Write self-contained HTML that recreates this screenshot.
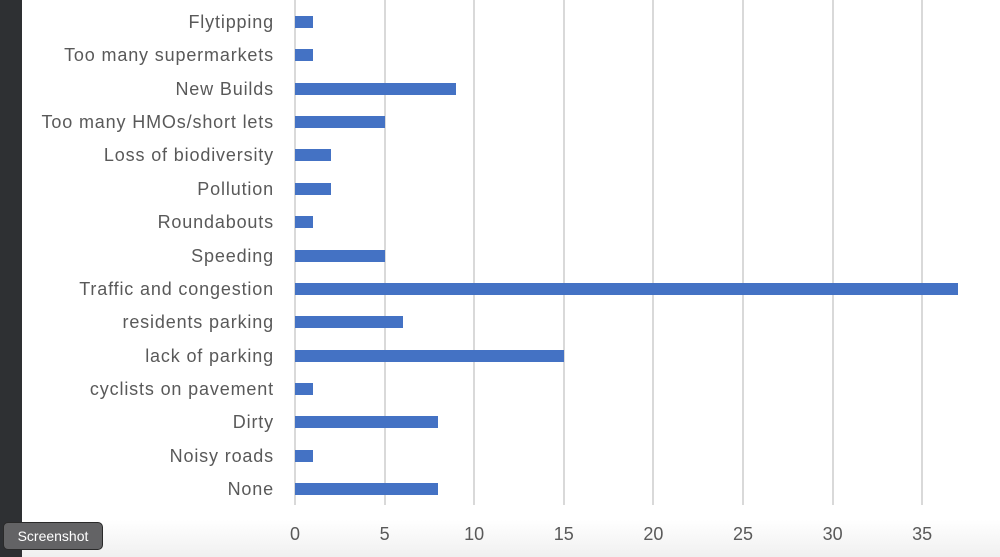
<!DOCTYPE html><html><head><style>body{margin:0;width:1000px;height:557px;overflow:hidden;background:#fff;font-family:"Liberation Sans",sans-serif;position:relative}
.l{position:absolute;right:726px;font-size:18px;letter-spacing:0.85px;color:#595959;white-space:nowrap;line-height:20px}
.b{position:absolute;left:295px;height:12px;background:#4472c4}
.g{position:absolute;top:0;height:505px;width:2px;background:#d9d9d9}
.t{position:absolute;top:524px;font-size:18px;color:#595959;width:40px;text-align:center}
</style></head><body>
<div style="position:absolute;left:0;top:520px;width:1000px;height:37px;background:linear-gradient(#fff,#f0f0f0)"></div>
<div style="position:absolute;left:0;top:0;width:22px;height:557px;background:#2e3033"></div>
<div id="c"></div>
<div style="position:absolute;left:3px;top:522px;width:98px;height:26px;background:#636365;border:1px solid #2a2a2a;border-radius:5px;color:#fff;font-size:14px;text-align:center;line-height:26px">Screenshot</div>
<script>
var n=["Flytipping","Too many supermarkets","New Builds","Too many HMOs/short lets","Loss of biodiversity","Pollution","Roundabouts","Speeding","Traffic and congestion","residents parking","lack of parking","cyclists on pavement","Dirty","Noisy roads","None"],v=[1,1,9,5,2,2,1,5,37,6,15,1,8,1,8],h="";
for(var k=0;k<=7;k++){var x=294+k*89.6;h+='<div class="g" style="left:'+x+'px"></div><div class="t" style="left:'+(x-19)+'px">'+k*5+'</div>';}
for(var i=0;i<15;i++){var y=22+i*33.36;h+='<div class="l" style="top:'+(y-10)+'px">'+n[i]+'</div><div class="b" style="top:'+(y-6)+'px;width:'+(v[i]*17.92)+'px"></div>';}
document.getElementById("c").innerHTML=h;
</script></body></html>
